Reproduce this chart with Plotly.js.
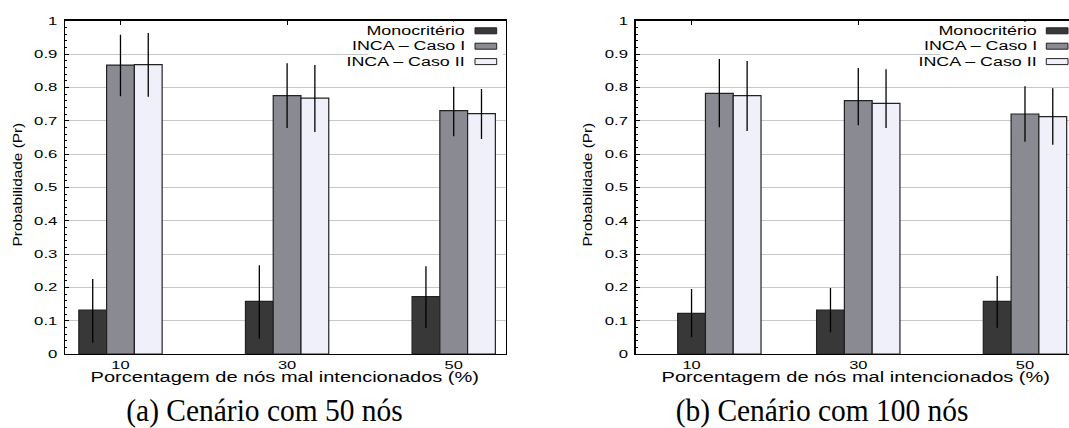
<!DOCTYPE html>
<html>
<head>
<meta charset="utf-8">
<script src="https://cdn.plot.ly/plotly-3.0.1.min.js"></script>
<style>
html,body{margin:0;padding:0;background:#fff;}
#plot{width:1069px;height:428px;}
</style>
</head>
<body>
<div id="plot"></div>
<script>
// ---------- data ----------
const categories = ['10', '30', '50'];
const seriesNames = ['Monocritério', 'INCA – Caso I', 'INCA – Caso II'];
const yTickVals = [0, 0.1, 0.2, 0.3, 0.4, 0.5, 0.6, 0.7, 0.8, 0.9, 1];
const yTickText = ['0', '0.1', '0.2', '0.3', '0.4', '0.5', '0.6', '0.7', '0.8', '0.9', '1'];
const xTitle = 'Porcentagem de nós mal intencionados (%)';
const yTitle = 'Probabilidade (Pr)';
const captions = ['(a) Cenário com 50 nós', '(b) Cenário com 100 nós'];

// (a) 50 nodes
const monoA      = [0.132, 0.158, 0.172];
const monoA_lo   = [0.034, 0.046, 0.078];
const monoA_hi   = [0.225, 0.266, 0.263];
const incaIA     = [0.867, 0.775, 0.730];
const incaIA_lo  = [0.773, 0.678, 0.653];
const incaIA_hi  = [0.958, 0.872, 0.802];
const incaIIA    = [0.868, 0.768, 0.721];
const incaIIA_lo = [0.772, 0.666, 0.645];
const incaIIA_hi = [0.963, 0.867, 0.795];

// (b) 100 nodes
const monoB      = [0.122, 0.132, 0.158];
const monoB_lo   = [0.050, 0.065, 0.079];
const monoB_hi   = [0.195, 0.198, 0.234];
const incaIB     = [0.782, 0.760, 0.720];
const incaIB_lo  = [0.680, 0.686, 0.637];
const incaIB_hi  = [0.885, 0.858, 0.803];
const incaIIB    = [0.775, 0.752, 0.712];
const incaIIB_lo = [0.669, 0.678, 0.628];
const incaIIB_hi = [0.879, 0.854, 0.797];

// ---------- styling / layout ----------
const W = 1069, H = 428;
const px = v => v / W;
const py = v => 1 - v / H;
const colors = ['#383838', '#8a8a93', '#f0f0fa'];
const outline = '#222222';
const barW = 1 / 6;
const baseOffsets = [-0.25, -1 / 12, 1 / 12];
const groupShiftB = [1 / 6, 0, 0];   // panel (b): first group drawn one bar to the right
const sansFont = 'Liberation Sans, Arial, Helvetica, sans-serif';
const serifFont = 'Liberation Serif, Times New Roman, serif';

const idx = categories.map((c, i) => i);

function barTrace(vals, lo, hi, s, xa, ya, shift) {
  return {
    type: 'bar',
    name: seriesNames[s],
    x: idx,
    y: vals,
    width: barW,
    offset: shift ? idx.map(i => baseOffsets[s] + shift[i]) : baseOffsets[s],
    marker: {color: colors[s], line: {color: outline, width: 1.2}},
    error_y: {
      type: 'data', symmetric: false,
      array: vals.map((v, i) => hi[i] - v),
      arrayminus: vals.map((v, i) => v - lo[i]),
      color: '#000', thickness: 1.3, width: 0
    },
    xaxis: xa, yaxis: ya,
    showlegend: false,
    hoverinfo: 'skip'
  };
}

const data = [
  barTrace(monoA, monoA_lo, monoA_hi, 0, 'x', 'y'),
  barTrace(incaIA, incaIA_lo, incaIA_hi, 1, 'x', 'y'),
  barTrace(incaIIA, incaIIA_lo, incaIIA_hi, 2, 'x', 'y'),
  barTrace(monoB, monoB_lo, monoB_hi, 0, 'x2', 'y2', groupShiftB),
  barTrace(incaIB, incaIB_lo, incaIB_hi, 1, 'x2', 'y2', groupShiftB),
  barTrace(incaIIB, incaIIB_lo, incaIIB_hi, 2, 'x2', 'y2', groupShiftB)
];

const plotTop = 20.7, plotBottom = 354;
const yDomain = [py(plotBottom), py(plotTop)];

function xAxis(domain, range, anchor) {
  return {
    domain: domain, range: range, anchor: anchor,
    tickvals: idx, ticktext: categories,
    ticks: 'inside', ticklen: 4, tickwidth: 1.2, tickcolor: '#000',
    showline: true, linecolor: '#000', linewidth: 1.3, mirror: 'ticks',
    showgrid: false, zeroline: false, layer: 'below traces',
    tickfont: {family: sansFont, size: 11.5, color: '#000'},
    fixedrange: true
  };
}
function yAxis(anchor, mirror) {
  return {
    domain: yDomain, range: [0, 1], anchor: anchor,
    tickvals: yTickVals, ticktext: yTickText,
    ticks: 'inside', ticklen: 4, tickwidth: 1, tickcolor: '#000',
    minor: {ticks: 'inside', ticklen: 2, dtick: 0.02, tickcolor: '#000', tickwidth: 1, showgrid: false},
    showline: true, linecolor: '#000', linewidth: 1.3, mirror: mirror,
    showgrid: true, gridcolor: '#c8c8c8', gridwidth: 1,
    zeroline: false, layer: 'below traces',
    tickfont: {family: sansFont, size: 11.7, color: '#000'},
    ticklabelstandoff: 4,
    fixedrange: true
  };
}

// legend (drawn manually: text right-aligned, swatch on the right)
const legendRows = [30.8, 46.2, 61.6];
const panels = [
  {legendTextRight: 467.3, swatchX0: 475, swatchX1: 496.7, boxX0: 368, boxX1: 503, xTitleX: 285.4, yTitleX: 18, capX: 264},
  {legendTextRight: 1038.6, swatchX0: 1046.3, swatchX1: 1068, boxX0: 940, boxX1: 1069, xTitleX: 856, yTitleX: 588, capX: 822}
];

const shapes = [];
const annotations = [];
panels.forEach((p, k) => {
  shapes.push({type: 'rect', xref: 'paper', yref: 'paper', layer: 'above',
    x0: px(p.boxX0), x1: px(p.boxX1), y0: py(70), y1: py(21.6),
    fillcolor: '#ffffff', line: {width: 0}});
  seriesNames.forEach((nm, s) => {
    shapes.push({type: 'rect', xref: 'paper', yref: 'paper', layer: 'above',
      x0: px(p.swatchX0), x1: px(p.swatchX1),
      y0: py(legendRows[s] + 3), y1: py(legendRows[s] - 3),
      fillcolor: colors[s], line: {color: outline, width: 1}});
    annotations.push({xref: 'paper', yref: 'paper', x: px(p.legendTextRight), y: py(legendRows[s]),
      xanchor: 'right', yanchor: 'middle', align: 'right', showarrow: false, text: nm,
      font: {family: sansFont, size: 12.5, color: '#000'}});
  });
  annotations.push({xref: 'paper', yref: 'paper', x: px(p.xTitleX), y: py(377),
    xanchor: 'center', yanchor: 'middle', showarrow: false, text: xTitle,
    font: {family: sansFont, size: 14, color: '#000'}});
  annotations.push({xref: 'paper', yref: 'paper', x: px(p.yTitleX), y: py(185),
    xanchor: 'center', yanchor: 'middle', showarrow: false, text: yTitle, textangle: -90,
    font: {family: sansFont, size: 13, color: '#000'}});
  annotations.push({xref: 'paper', yref: 'paper', x: px(p.capX), y: py(410),
    xanchor: 'center', yanchor: 'middle', showarrow: false, text: captions[k],
    font: {family: serifFont, size: 31, color: '#000'}});
});

const layout = {
  width: W, height: H,
  margin: {l: 0, r: 0, t: 0, b: 0, pad: 0},
  paper_bgcolor: '#fff', plot_bgcolor: '#fff',
  barmode: 'overlay',
  showlegend: false,
  xaxis: xAxis([px(65), px(505.7)], [-0.333, 2.312], 'y'),
  yaxis: yAxis('x', true),
  xaxis2: xAxis([px(635.7), 1], [-0.335, 2.264], 'y2'),
  yaxis2: yAxis('x2', false),
  shapes: shapes,
  annotations: annotations
};

// horizontal stretch of the lettering (the original figure uses wide lettering)
const STRETCH = 1.43, Y_STRETCH = 1.18, CAP_STRETCH = 0.95;

Plotly.newPlot('plot', data, layout, {staticPlot: true, displayModeBar: false}).then(gd => {
  gd.querySelectorAll('svg text').forEach(t => {
    const s = t.textContent;
    if (!s || !s.trim()) return;
    let k = STRETCH;
    if (s.indexOf('Cenário') >= 0) k = CAP_STRETCH;
    else if (s.indexOf('Probabilidade') >= 0) k = Y_STRETCH;
    const L = t.getComputedTextLength();
    if (L > 0) {
      t.setAttribute('textLength', (L * k).toFixed(2));
      t.setAttribute('lengthAdjust', 'spacingAndGlyphs');
    }
  });
});
</script>
</body>
</html>
